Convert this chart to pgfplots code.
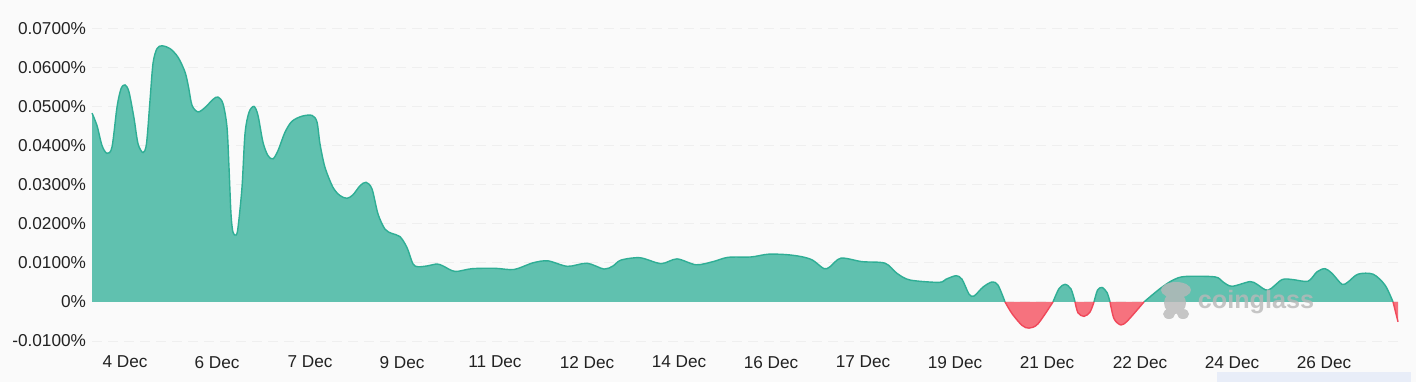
\documentclass[border=0pt]{standalone}
\usepackage{pgfplots}
\usepackage{pgfplotstable}
\usepackage{fontspec}
\setmainfont{Liberation Sans}
\pgfplotsset{compat=1.18}
\definecolor{bgc}{HTML}{FAFAFA}
\definecolor{gfill}{HTML}{60C1AF}
\definecolor{gline}{HTML}{2FAE95}
\definecolor{rfill}{HTML}{F6727E}
\definecolor{rline}{HTML}{F0485A}
\definecolor{gridc}{HTML}{EFEFEF}
\definecolor{txt}{HTML}{222222}
\definecolor{pale}{HTML}{E8EDF8}
\definecolor{wm}{HTML}{B8B8B8}
\pgfplotstableread{
x v
92 0.0483
97 0.0451
102 0.0400
107 0.0380
112 0.0396
117 0.0498
121 0.0545
125 0.0555
129 0.0537
134 0.0470
138 0.0405
143 0.0382
146.5 0.0405
150 0.0515
153 0.0610
157 0.0648
162 0.0655
170 0.0648
178 0.0626
185 0.0588
188.5 0.0550
192 0.0503
198 0.0486
205 0.0497
213 0.0518
218 0.0524
223 0.0507
227 0.0447
229 0.0344
231 0.0225
233 0.0178
236 0.0171
238 0.0190
242 0.0293
245 0.0430
249 0.0485
254 0.0500
258 0.0477
263 0.0408
268 0.0374
273 0.0366
278 0.0387
285 0.0434
292 0.0462
302 0.0475
312 0.0477
317 0.0460
320 0.0404
325 0.0344
333 0.0293
340 0.0272
347 0.0265
353 0.0274
360 0.0297
366 0.0306
372 0.0289
378 0.0225
385 0.0186
392 0.0175
400 0.0167
407 0.0139
413 0.0097
418 0.0090
427 0.0092
437 0.0097
443 0.0092
455 0.0078
472 0.0085
495 0.0086
514 0.0083
533 0.0100
548 0.0105
567.5 0.0091
587 0.0099
604 0.0084
613 0.0092
621 0.0107
640 0.0113
661 0.0098
677 0.0110
696 0.0095
713 0.0103
728 0.0114
751 0.0115
768 0.0122
786 0.0121
801 0.0116
812.5 0.0107
824 0.0085
830 0.0090
841 0.0112
862 0.0103
885 0.0099
897 0.0073
910 0.0056
939 0.0050
946 0.0058
956 0.0067
962 0.0058
969 0.0020
974 0.0015
983 0.0038
992 0.0051
998 0.0043
1005 0
}\greenA
\pgfplotstableread{
x v
1053 0
1059 0.0034
1065 0.0045
1071 0.0033
1075 0
}\greenB
\pgfplotstableread{
x v
1094 0
1097.5 0.0030
1102 0.0037
1107 0.0024
1110 0
}\greenC
\pgfplotstableread{
x v
1144 0
1160 0.0034
1173 0.0056
1185 0.0065
1215 0.0064
1223 0.0051
1232 0.0040
1250 0.0052
1257 0.0045
1268 0.0030
1282 0.0057
1293 0.0057
1308 0.0053
1317 0.0077
1325 0.0085
1332 0.0073
1342 0.0045
1348 0.0051
1358 0.0071
1373 0.0071
1385 0.0043
1393 0
}\greenD
\pgfplotstableread{
x v
1005 0
1012 -0.0030
1022 -0.0060
1029 -0.0067
1038 -0.0056
1053 0
}\redA
\pgfplotstableread{
x v
1075 0
1078 -0.0028
1084 -0.0037
1090 -0.0026
1094 0
}\redB
\pgfplotstableread{
x v
1110 0
1114 -0.0043
1121 -0.0059
1128 -0.0047
1144 0
}\redC
\pgfplotstableread{
x v
1393 0
1398 -0.0051
}\redD
\newcommand{\lump}[3]{%
  \addplot[draw=none,fill=#2,smooth,forget plot] table[x=x,y=v]{#1} \closedcycle;
  \addplot[draw=#3,line width=0.7pt,smooth,forget plot] table[x=x,y=v]{#1};
}
\begin{document}
\begin{tikzpicture}[x=0.5pt,y=0.5pt]
\fill[bgc] (0,0) rectangle (1416,382);
\fill[pale] (1217,0) rectangle (1411,10);
\begin{axis}[
  at={(46pt,20.5pt)},anchor=south west,
  scale only axis,width=653pt,height=156.4pt,
  xmin=92,xmax=1398,ymin=-0.01,ymax=0.07,
  axis line style={draw=none},
  major tick length=0pt,
  scaled y ticks=false,
  xtick={125,217,310,402,495,587,679,771,863,955,1047,1140,1232,1324},
  xticklabels={4 Dec,6 Dec,7 Dec,9 Dec,11 Dec,12 Dec,14 Dec,16 Dec,17 Dec,19 Dec,21 Dec,22 Dec,24 Dec,26 Dec},
  ytick={-0.01,0,0.01,0.02,0.03,0.04,0.05,0.06,0.07},
  yticklabels={-0.0100\%,0\%,0.0100\%,0.0200\%,0.0300\%,0.0400\%,0.0500\%,0.0600\%,0.0700\%},
  ymajorgrids,
  major grid style={draw=gridc,line width=0.5pt,dash pattern=on 5pt off 3pt},
  tick label style={font=\fontsize{8.6}{10}\selectfont,text=txt},
  yticklabel style={xshift=0.5pt},
  xticklabel style={yshift=-4pt},
  clip=false,
]
\lump{\greenA}{gfill}{gline}
\lump{\greenB}{gfill}{gline}
\lump{\greenC}{gfill}{gline}
\lump{\greenD}{gfill}{gline}
\lump{\redA}{rfill}{rline}
\lump{\redB}{rfill}{rline}
\lump{\redC}{rfill}{rline}
\lump{\redD}{rfill}{rline}
\end{axis}
\node[text=wm,opacity=0.8,font=\bfseries\fontsize{12.6}{15}\selectfont] at (1256,80) {coinglass};
\fill[wm,opacity=0.8] (1176,92) ellipse (15 and 8) (1175,79) ellipse (11 and 11) (1169,68) ellipse (6 and 5) (1183,68) ellipse (6 and 5);
\end{tikzpicture}
\end{document}
